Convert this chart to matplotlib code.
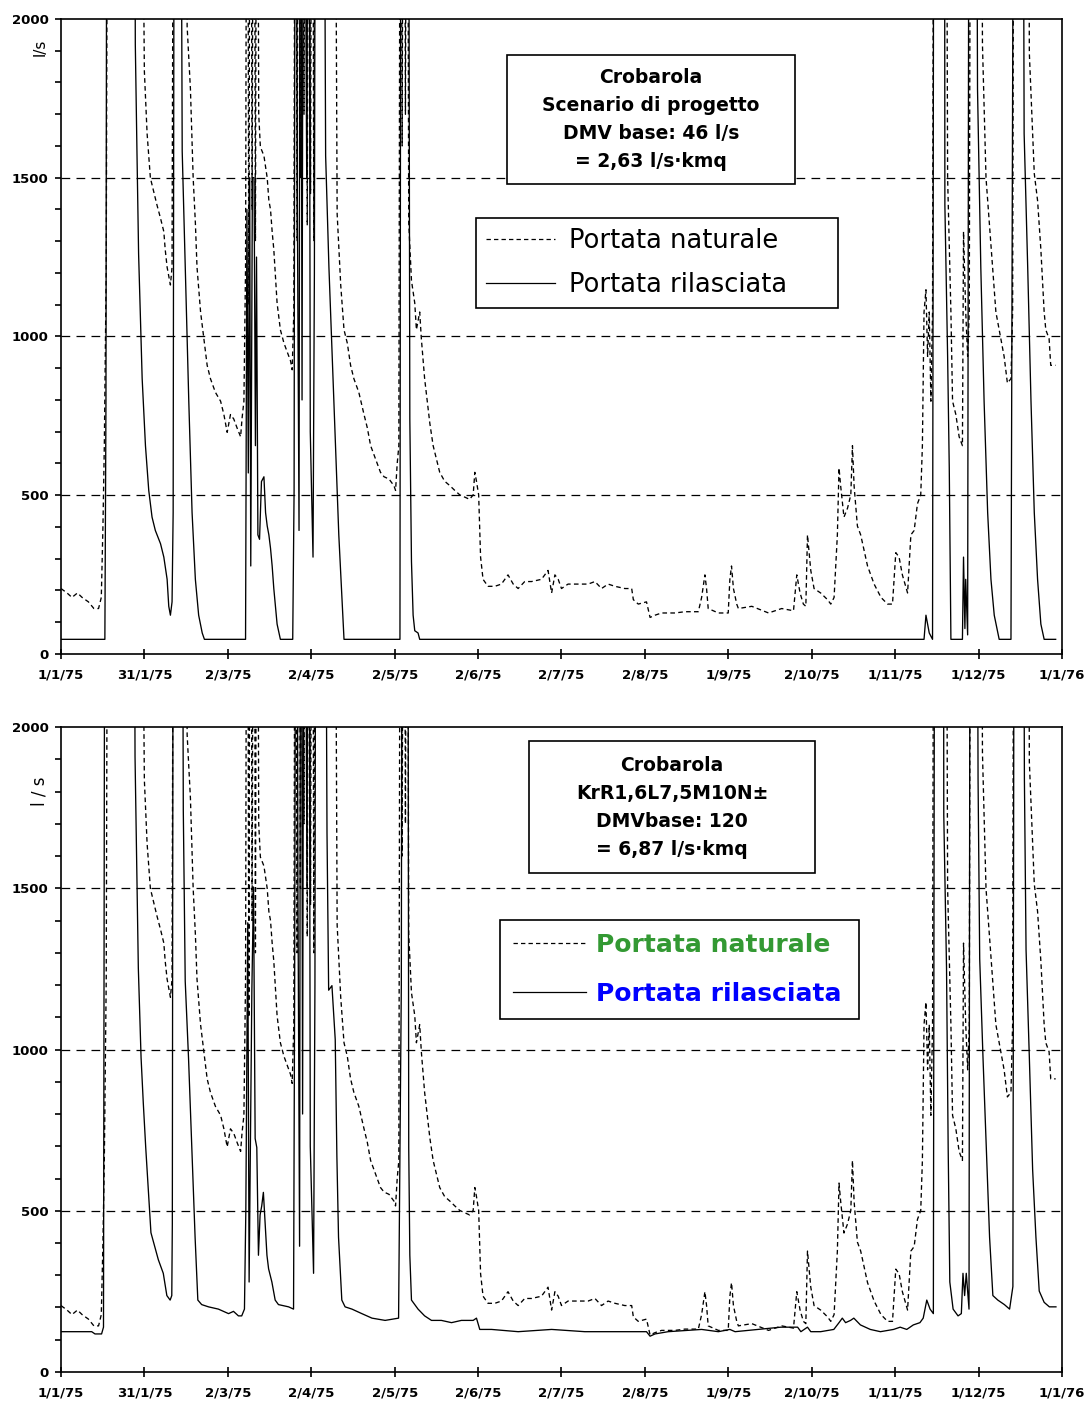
import matplotlib.pyplot as plt
from matplotlib.patches import Rectangle
from matplotlib.lines import Line2D
from matplotlib.ticker import MultipleLocator

# giorni dall'1/1/75 e portate in l/s (valori oltre 2000 sono tagliati dal grafico)
nat_day = [0, 2.2, 4, 6, 7.7, 10, 12, 13.7, 14.7, 15.3, 15.8, 16.5, 17.2, 28.8, 30.4, 31.4, 32.6, 33.8, 35,
           36.3, 37.5, 38, 38.7, 39.9, 40.5, 41.2, 45.4, 46, 47.2, 48.2, 49, 49.6, 50.9, 52, 53.3, 54.5, 56.3,
           58.2, 59.4, 60.6, 61.8, 63, 64.2, 65.5, 66, 66.7, 67.3, 67.9, 68.5, 69.1, 69.7, 70.3, 70.9, 71.5,
           72.1, 72.7, 74, 75.2, 75.8, 76.4, 77, 77.6, 78.2, 78.8, 80, 81.3, 82.5, 83.7, 84.3, 84.9, 85.5,
           86.1, 86.7, 87.3, 88, 88.6, 89.2, 89.8, 90.4, 91, 91.6, 92.2, 92.8, 99.6, 100.7, 102, 103.2, 104.4,
           105.6, 106.8, 108.6, 110.5, 111.7, 112.9, 114.7, 116.5, 117.8, 119.6, 121.4, 122, 122.6, 123.2,
           123.8, 124.4, 125, 125.6, 126.2, 126.8, 127.8, 129, 129.6, 130.8, 131.4, 132.6, 134.5, 135.7,
           136.9, 138.1, 139.9, 141.8, 143.6, 145.4, 147.2, 149, 150.3, 150.9, 151.5, 152.3, 153, 153.9,
           155.7, 158.2, 160.6, 163, 164.9, 166.7, 169.1, 171.6, 175.2, 177.6, 178.9, 180.1, 181.3, 182.5,
           184.9, 188.6, 192.2, 194.7, 197.1, 199.5, 202, 205.6, 208.1, 208.7, 210.5, 213.5, 214.8, 216.6,
           219, 223.9, 227.5, 232.4, 233.6, 234.8, 235.4, 236, 239.7, 243.3, 243.9, 244.5, 245.2, 246.4, 247,
           251.9, 258, 262.8, 267.1, 268.3, 269.5, 270.7, 271.6, 272.2, 273.4, 274.6, 277, 279.5, 280.7,
           281.9, 283.1, 283.7, 284.3, 285.5, 286.8, 288, 288.6, 289.2, 290.4, 291.6, 294.1, 296.5, 299,
           301.4, 303.2, 304.4, 305.6, 306.8, 308.7, 309.9, 311.1, 312.3, 313.5, 314.1, 314.7, 315.4, 316,
           316.6, 317.2, 317.8, 318.4, 322.6, 323.3, 324.5, 325.1, 326.3, 327.5, 328.7, 329.1, 329.9, 330.6,
           331.2, 331.8, 335.4, 336, 337.3, 338.5, 339.7, 340.9, 342.7, 343.9, 345.1, 346.4, 347, 347.6,
           352.6, 353.1, 354.9, 356.1, 357.3, 358.5, 359.1, 360.3, 360.9, 362.7]
nat_q = [206, 192, 178, 192, 178, 164, 143, 143, 178, 403, 656, 1218, 3500, 3500, 1836, 1639, 1499, 1456, 1414,
         1372, 1330, 1274, 1218, 1162, 1218, 3500, 3500, 1976, 1779, 1499, 1358, 1218, 1077, 1000, 909, 867, 824,
         796, 754, 698, 754, 740, 712, 684, 740, 796, 1218, 3500, 1100, 3500, 1400, 3500, 1300, 3500,
         1700, 1597, 1569, 1499, 1428, 1400, 1330, 1274, 1190, 1105, 1021, 979, 951, 923, 895, 1077, 3500,
         1300, 3500, 1500, 3500, 1700, 3500, 1350, 3500, 1450, 3500, 1300, 3500, 3500, 1386, 1162, 1021, 979,
         909, 867, 824, 754, 712, 656, 614, 572, 558, 551, 530, 515, 600, 656,
         3500, 1600, 3500, 1700, 3500, 1358, 1176, 1105, 1021, 1077, 993, 867, 726, 656,
         614, 572, 544, 530, 515, 501, 494, 487, 501, 572, 544, 501, 305, 235,
         213, 213, 220, 249, 220, 206, 228, 228, 235, 263, 192, 249, 235, 206,
         220, 220, 220, 228, 206, 220, 213, 206, 206, 171, 157, 164, 115, 122,
         129, 129, 133, 133, 178, 249, 206, 143, 129, 129, 235, 277, 206, 157, 143,
         150, 129, 143, 136, 249, 192, 157, 150, 375, 263, 206, 192, 171, 157,
         178, 375, 586, 529, 431, 459, 501, 656, 529, 403, 375, 277, 220, 178,
         157, 157, 319, 305, 249, 192, 375, 389, 473, 501, 656, 1077, 1147, 937,
         1077, 796, 1077, 3500, 3500, 1499, 1077, 796, 754, 684, 656, 1330, 1077, 937,
         1077, 3500, 3500, 1920, 1499, 1358, 1218, 1077, 993, 937, 853, 867, 1077, 3500,
         3500, 1892, 1513, 1428, 1274, 1077, 1021, 993, 909, 909]

rel1_day = [0, 16.0, 16.4, 16.8, 26.6, 27.1, 27.7, 28.3, 29.6, 30.8, 32, 33.2, 34.4, 36.3, 37.5, 38.7, 39.3,
            39.9, 40.5, 40.9, 41.4, 43.4, 44.2, 45.4, 46.6, 47.8, 49, 50.2, 51.5, 52.3, 67.3, 67.8, 68.3, 68.8,
            69.2, 69.8, 70.4, 70.9, 71.3, 71.8, 72.4, 73.1, 74, 74.6, 75.2, 75.8, 76.4, 77, 77.6, 78.8, 80,
            84.5, 85, 85.5, 86.2, 86.8, 87.3, 87.9, 88.5, 89.6, 90.3, 90.9, 91.4, 91.9, 92.4, 92.9, 95.6,
            96.5, 97.7, 98.9, 100.1, 101.3, 102.6, 103.2, 123.6, 124, 126.6, 127.2, 127.8, 128.4, 129, 130.2,
            130.8, 314.7, 315.4, 316.6, 317.8, 318.4, 322.1, 322.3, 323.3, 323.9, 324.5, 328.7, 329.1, 329.6,
            329.9, 330.6, 331.2, 333.6, 334.2, 335.4, 336.6, 337.9, 339.1, 340.3, 342.1, 346.4, 347.6, 350.6,
            351.2, 352.5, 353.7, 354.9, 356.1, 357.3, 358.5, 362.7]
rel1_q = [46, 46, 796, 3500, 3500, 1920, 1583, 1260, 867, 656, 515, 431, 389, 347, 305, 235, 150,
          122, 164, 445, 3500, 3500, 1583, 1190, 796, 445, 235, 122, 66, 46, 46, 1400, 570, 1500,
          277, 1500, 1500, 656, 1250, 375, 361, 543, 558, 445, 403, 375, 333, 277, 206, 94, 46,
          46, 515, 3500, 1400, 389, 3500, 800, 3500, 1500, 3500, 700, 500, 305, 1200, 3500, 3500,
          1569, 1218, 937, 656, 375, 150, 46, 46, 3500, 3500, 740, 291, 122, 73, 66,
          46, 46, 122, 66, 46, 3500, 3500, 1414, 937, 586, 46, 46, 305, 80,
          235, 60, 3500, 3500, 1779, 1218, 796, 445, 235, 122, 46, 46, 3500, 3500,
          1639, 1218, 796, 445, 235, 94, 46, 46]

rel2_day = [0, 11.2, 12.4, 14.8, 15.5, 16.1, 26.4, 27, 27.6, 28.2, 29.2, 30, 30.9, 31.9, 32.8, 33.7, 35.5,
            37.3, 38.6, 39.8, 40.4, 40.6, 41, 44, 44.6, 45.3, 46.5, 47.7, 48.9, 49.9, 51.3, 53.8, 57.4, 61.1,
            62.9, 64.7, 65.9, 66.9, 67.4, 68.1, 68.6, 69.6, 70.2, 70.8, 71.4, 72, 72.6, 73.2, 73.8, 75.1,
            75.7, 76.9, 78.1, 79.3, 83, 84.8, 85.2, 85.8, 86.4, 87, 87.5, 88.1, 88.7, 89.7, 90.3, 90.9, 91.5,
            92.1, 92.6, 93, 96.1, 97, 97.6, 98.8, 99.4, 100, 100.6, 101.2, 102.4, 103.6, 106.1, 109.7, 113.4,
            118.2, 123.1, 124.1, 124.5, 126.4, 126.8, 127.2, 127.8, 129, 130.2, 132.6, 135.1, 138.7, 142.4,
            146, 150.3, 151.5, 152.7, 157, 166.7, 178.9, 191, 203.2, 213.5, 214.8, 216.6, 221.4, 233.6,
            239.7, 243.9, 245.8, 262.5, 268.6, 269.8, 272.2, 273.4, 277, 281.8, 283.7, 284.9, 286.1, 287.9,
            289.1, 291.5, 295.1, 298.8, 303.6, 306, 308.4, 310.8, 313.2, 314.4, 315.7, 316.9, 318.1, 318.7,
            321.7, 321.9, 322.9, 323.5, 324.1, 325.3, 327.1, 328.3, 328.9, 329.5, 330.1, 331.1, 331.6, 333.8,
            334.4, 335, 336.2, 337.4, 338.6, 339.8, 341.6, 344, 345.9, 347.1, 347.7, 350.7, 351.3, 351.9,
            353.1, 354.3, 355.5, 356.7, 358.5, 360.4, 362.8]
rel2_q = [125, 125, 118, 118, 139, 3500, 3500, 1908, 1574, 1253, 975, 836, 696, 557, 432, 404, 348,
          306, 237, 223, 237, 460, 3500, 3500, 1741, 1212, 975, 696, 418, 223, 209, 202, 195, 181,
          188, 174, 174, 195, 501, 1393, 279, 1184, 1504, 724, 696, 362, 487, 515, 557, 362,
          320, 279, 223, 209, 202, 195, 1200, 3500, 1500, 390, 3500, 800, 3500, 1500, 3500, 700, 500,
          306, 1200, 3500, 3500, 1671, 1184, 1198, 1114, 1031, 669, 418, 223, 202, 195, 181, 167,
          160, 167, 1200, 3500, 3500, 696, 362, 223, 209, 195, 174, 160, 160, 153,
          160, 160, 167, 132, 132, 125, 132, 125, 125, 125, 111, 118, 125, 132,
          125, 132, 125, 139, 139, 125, 139, 125, 125, 132, 153, 167, 153, 160,
          167, 146, 132, 125, 132, 139, 132, 146, 153, 167, 223, 195, 181, 3500,
          3500, 1727, 1253, 696, 279, 195, 174, 181, 306, 237, 306, 195, 3500, 3500,
          1838, 1281, 975, 696, 418, 237, 223, 209, 195, 265, 3500, 3500, 1838, 1309,
          975, 627, 418, 251, 216, 202, 202]

tick_days = [i * 365 / 12 for i in range(13)]
tick_labels = ["1/1/75", "31/1/75", "2/3/75", "2/4/75", "2/5/75", "2/6/75", "2/7/75",
               "2/8/75", "1/9/75", "2/10/75", "1/11/75", "1/12/75", "1/1/76"]

box_top = "Crobarola\nScenario di progetto\nDMV base: 46 l/s\n= 2,63 l/s·kmq"
box_bot = "Crobarola\nKrR1,6L7,5M10N±\nDMVbase: 120\n= 6,87 l/s·kmq"

fig = plt.figure(figsize=(10.91, 14.03), dpi=100)
ax1 = fig.add_axes([0.0559, 0.5339, 0.9175, 0.4526])
ax2 = fig.add_axes([0.0559, 0.0221, 0.9175, 0.4597])

dash_nat = (0, (3.5, 2.5))

for ax, rel_day, rel_q in [(ax1, rel1_day, rel1_q), (ax2, rel2_day, rel2_q)]:
    ax.plot(nat_day, nat_q, color="black", lw=0.95, linestyle=dash_nat)
    ax.plot(rel_day, rel_q, color="black", lw=0.95)
    ax.set_xlim(0, 365)
    ax.set_ylim(0, 2000)
    for yv in [500, 1000, 1500]:
        ax.axhline(yv, color="black", lw=0.9, linestyle=(0, (7, 5)), zorder=0)
    ax.set_xticks(tick_days)
    ax.set_xticklabels(tick_labels)
    ax.set_yticks([0, 500, 1000, 1500, 2000])
    ax.yaxis.set_minor_locator(MultipleLocator(100))
    ax.tick_params(axis="x", direction="inout", length=7, width=1.2, pad=7)
    ax.tick_params(axis="y", which="both", direction="out", length=4, width=1.2, pad=5)
    for lab in ax.get_xticklabels() + ax.get_yticklabels():
        lab.set_fontsize(9.5)
        lab.set_fontweight("bold")
    for sp in ax.spines.values():
        sp.set_linewidth(1.2)

# etichette asse y
ax1.text(-0.021, 0.955, "l/s", transform=ax1.transAxes, rotation=90, fontsize=11,
         ha="center", va="center")
ax2.text(-0.021, 0.90, "l / s", transform=ax2.transAxes, rotation=90, fontsize=12,
         ha="center", va="center")

# riquadri di testo
ax1.add_patch(Rectangle((0.4456, 0.7402), 0.2877, 0.2031, transform=ax1.transAxes,
                        fill=True, facecolor="white", edgecolor="black", lw=1.2, zorder=5))
ax1.text(0.5894, 0.8417, box_top, transform=ax1.transAxes, ha="center", va="center",
         fontsize=13.5, fontweight="bold", linespacing=1.6, zorder=6)
ax2.add_patch(Rectangle((0.4675, 0.7736), 0.2857, 0.2047, transform=ax2.transAxes,
                        fill=True, facecolor="white", edgecolor="black", lw=1.2, zorder=5))
ax2.text(0.6104, 0.876, box_bot, transform=ax2.transAxes, ha="center", va="center",
         fontsize=13.5, fontweight="bold", linespacing=1.6, zorder=6)

# legende
handles = [Line2D([], [], color="black", lw=0.9, linestyle=dash_nat),
           Line2D([], [], color="black", lw=0.9)]
names = ["Portata naturale", "Portata rilasciata"]

leg1 = ax1.legend(handles, names, loc="upper left", bbox_to_anchor=(0.4146, 0.5449, 0.3616, 0.1417),
                  mode="expand", fontsize=18.5, frameon=True, fancybox=False, framealpha=1,
                  edgecolor="black", handlelength=2.7, handletextpad=0.55,
                  labelspacing=0.72, borderpad=0.38, borderaxespad=0)
leg1.get_frame().set_linewidth(1.2)

leg2 = ax2.legend(handles, names, loc="upper left", bbox_to_anchor=(0.4386, 0.5457, 0.3586, 0.1551),
                  mode="expand", prop={"size": 18, "weight": "bold"}, frameon=True, fancybox=False,
                  framealpha=1, edgecolor="black", handlelength=2.9, handletextpad=0.4,
                  labelspacing=0.98, borderpad=0.52, borderaxespad=0)
leg2.get_frame().set_linewidth(1.2)
leg2.get_texts()[0].set_color("#339933")
leg2.get_texts()[1].set_color("#0000ff")

fig.savefig("out.png", dpi=100)
